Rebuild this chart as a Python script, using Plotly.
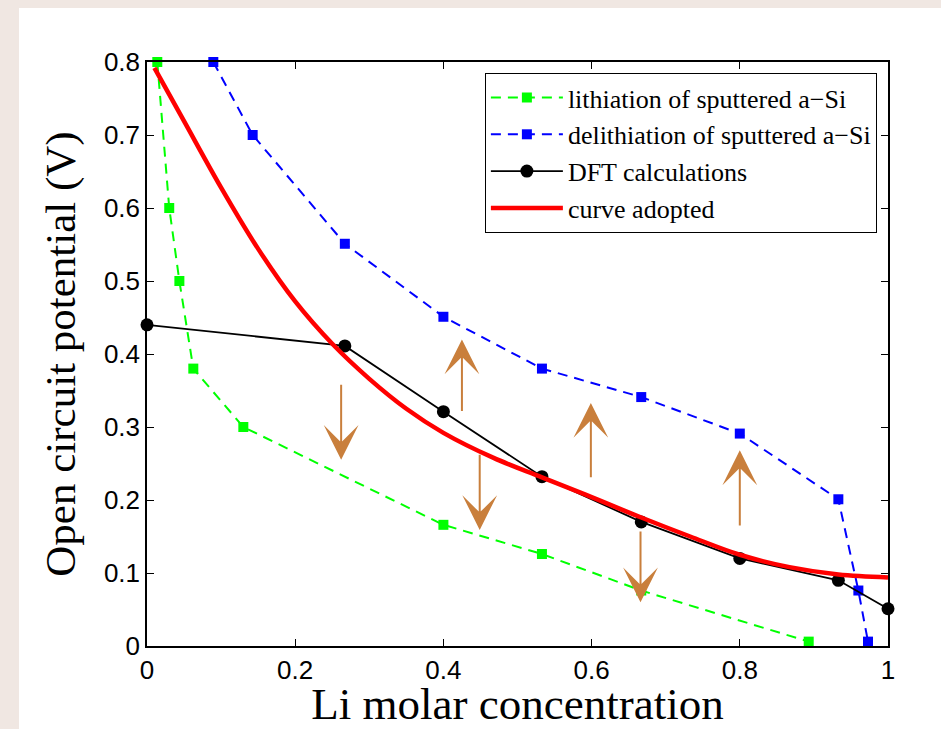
import plotly.graph_objects as go

# ---- data ----
lith_x = [0.0139, 0.030, 0.0437, 0.0625, 0.130, 0.400, 0.533, 0.667, 0.893]
lith_y = [0.800, 0.600, 0.500, 0.380, 0.300, 0.166, 0.126, 0.076, 0.006]

delith_x = [0.0895, 0.1426, 0.267, 0.400, 0.533, 0.667, 0.800, 0.933, 0.960, 0.973]
delith_y = [0.800, 0.700, 0.551, 0.451, 0.380, 0.341, 0.291, 0.201, 0.076, 0.006]

dft_x = [0.0, 0.267, 0.400, 0.533, 0.667, 0.800, 0.933, 1.0]
dft_y = [0.440, 0.411, 0.321, 0.232, 0.170, 0.120, 0.090, 0.051]

curve_x = [0.01, 0.05, 0.10, 0.15, 0.20, 0.25, 0.30, 0.35, 0.40,
           0.467, 0.533, 0.60, 0.667, 0.733, 0.80, 0.867, 0.933, 1.0]
curve_y = [0.792, 0.719, 0.628, 0.544, 0.472, 0.414, 0.366, 0.325, 0.292,
           0.258, 0.231, 0.204, 0.176, 0.150, 0.125, 0.108, 0.098, 0.094]

# arrows: x, tail y, tip y
arrow_x = [0.262, 0.425, 0.449, 0.599, 0.666, 0.800]
arrow_tail = [0.360, 0.320, 0.264, 0.229, 0.159, 0.163]
arrow_tip = [0.255, 0.420, 0.159, 0.333, 0.060, 0.268]

x_ticks = [0, 0.2, 0.4, 0.6, 0.8, 1]
y_ticks = [0, 0.1, 0.2, 0.3, 0.4, 0.5, 0.6, 0.7, 0.8]

SERIF = "Liberation Serif, Times New Roman, serif"
SANS = "Liberation Sans, Arial, sans-serif"
BROWN = "#C97F3C"

fig = go.Figure()
fig.add_trace(go.Scatter(
    x=lith_x, y=lith_y, mode="lines+markers", name="lithiation of sputtered a\u2212Si",
    line=dict(color="#00FF00", width=2, dash="10px,7px"),
    marker=dict(symbol="square", size=10, color="#00FF00"), cliponaxis=False))
fig.add_trace(go.Scatter(
    x=delith_x, y=delith_y, mode="lines+markers", name="delithiation of sputtered a\u2212Si",
    line=dict(color="#0000FF", width=2, dash="10px,7px"),
    marker=dict(symbol="square", size=10, color="#0000FF"), cliponaxis=False))
fig.add_trace(go.Scatter(
    x=dft_x, y=dft_y, mode="lines+markers", name="DFT calculations",
    line=dict(color="black", width=1.8),
    marker=dict(symbol="circle", size=13, color="black"), cliponaxis=False))
fig.add_trace(go.Scatter(
    x=curve_x, y=curve_y, mode="lines", name="curve adopted",
    line=dict(color="#FF0000", width=4.5, shape="spline", smoothing=1.0), cliponaxis=False))

for ax_, t0, t1 in zip(arrow_x, arrow_tail, arrow_tip):
    fig.add_annotation(x=ax_, y=t1, ax=ax_, ay=t0, xref="x", yref="y", axref="x", ayref="y",
                       showarrow=True, arrowhead=3, arrowsize=2.9, arrowwidth=2,
                       arrowcolor=BROWN, text="")

# page frame: beige background with white sheet
fig.add_shape(type="rect", xref="paper", yref="paper", x0=-0.1727, x1=1.2, y0=-0.3, y1=1.0925,
              fillcolor="white", line=dict(width=0), layer="below")

axis_common = dict(showline=True, linecolor="black", linewidth=1.5, mirror="ticks",
                   ticks="inside", ticklen=7, tickwidth=1, tickcolor="black",
                   showgrid=False, zeroline=False, automargin=False,
                   tickfont=dict(family=SANS, size=26, color="black"))

fig.update_layout(
    width=941, height=729,
    margin=dict(l=147, r=53, t=62, b=83),
    paper_bgcolor="#F0E7E2", plot_bgcolor="white",
    xaxis=dict(range=[0, 1], tickvals=x_ticks, ticktext=[f"{v:g}" for v in x_ticks],
               ticklabelstandoff=0,
               title=dict(text="Li molar concentration", font=dict(family=SERIF, size=45, color="black"),
                          standoff=2), **axis_common),
    yaxis=dict(range=[0, 0.8], tickvals=y_ticks, ticktext=[f"{v:g}" for v in y_ticks],
               title=dict(text="Open circuit potential (V)", font=dict(family=SERIF, size=43, color="black"),
                          standoff=15), **axis_common),
    legend=dict(x=0.985, y=0.981, xanchor="right", yanchor="top",
                bgcolor="white", bordercolor="black", borderwidth=1,
                font=dict(family=SERIF, size=26, color="black"),
                itemwidth=72, tracegroupgap=0),
    showlegend=True,
)

fig.write_html("out.html", config={"displayModeBar": False},
               post_script="document.body.style.margin='0';document.body.style.overflow='hidden';")
